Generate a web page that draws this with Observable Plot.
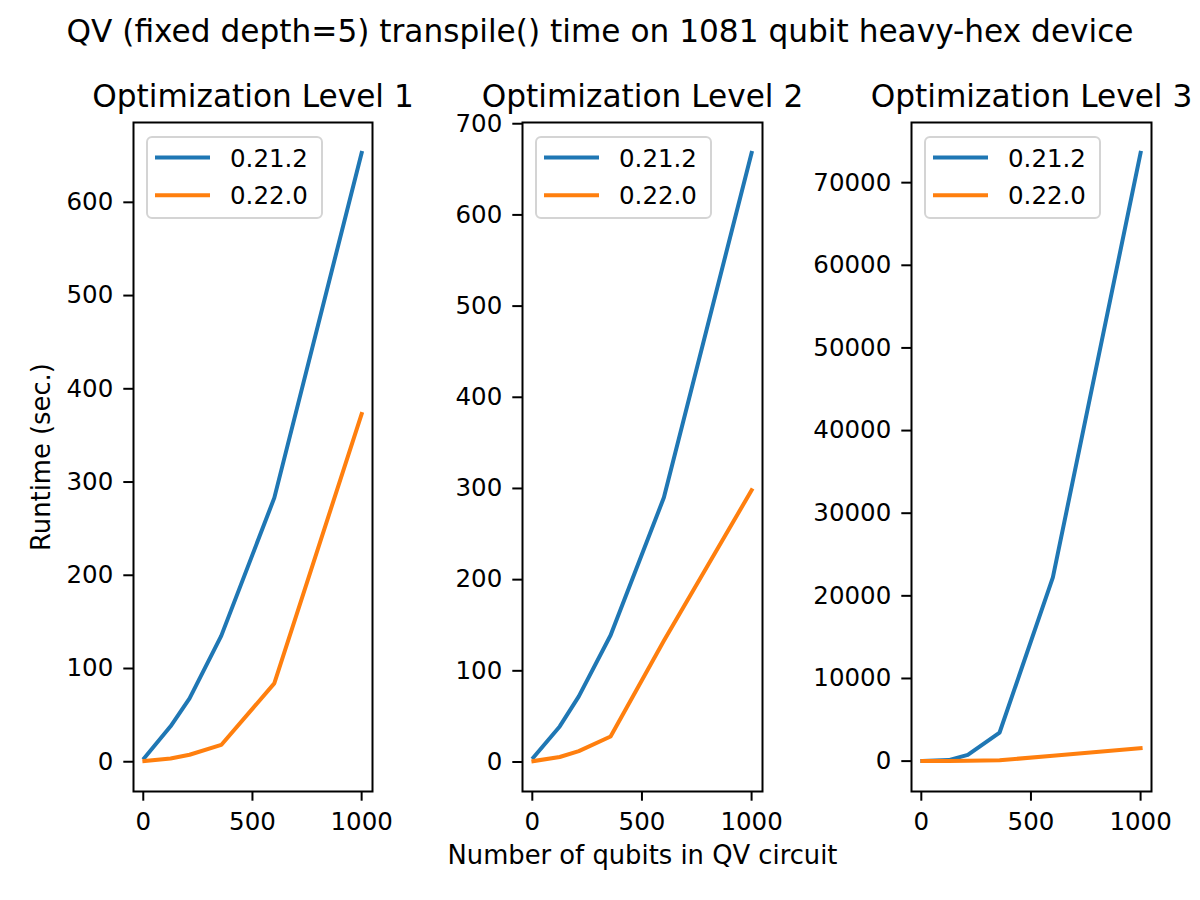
<!DOCTYPE html>
<html>
<head>
<meta charset="utf-8">
<script src="https://cdn.jsdelivr.net/npm/d3@7"></script>
<script src="https://cdn.jsdelivr.net/npm/@observablehq/plot@0.6"></script>
<style>
  body { margin: 0; background: #fff; font-family: "DejaVu Sans", sans-serif; }
  #root { position: relative; width: 1200px; height: 900px; overflow: hidden; background: #fff; }
  .suptitle { position: absolute; left: 0; top: 16px; width: 1200px; text-align: center;
    font-size: 31.2px; line-height: 31.2px; color: #000; white-space: nowrap; }
  .legend { position: absolute; top: 136px; }
</style>
</head>
<body>
<div id="root"></div>
<script>
// ---- data ----
const suptitle = "QV (fixed depth=5) transpile() time on 1081 qubit heavy-hex device";
const panelTitles = ["Optimization Level 1", "Optimization Level 2", "Optimization Level 3"];
const versions = ["0.21.2", "0.22.0"];
const seriesColors = ["#1f77b4", "#ff7f0e"];
const qubits = [5, 125, 212, 357, 600, 1000];

const level1_v0212 = [4, 38, 68, 135, 283, 653];
const level1_v0220 = [0.7, 3.5, 7.5, 18, 84, 373];
const level2_v0212 = [5, 39, 72, 139, 290, 668];
const level2_v0220 = [1, 5.5, 12, 28, 133, 298];
const level3_v0212 = [10, 120, 760, 3460, 22230, 73600];
const level3_v0220 = [2, 10, 30, 100, 650, 1570];

const xTicks = [0, 500, 1000];
const level1_yTicks = [0, 100, 200, 300, 400, 500, 600];
const level2_yTicks = [0, 100, 200, 300, 400, 500, 600, 700];
const level3_yTicks = [0, 10000, 20000, 30000, 40000, 50000, 60000, 70000];

const xLabel = "Number of qubits in QV circuit";
const yLabel = "Runtime (sec.)";

// ---- layout ----
const W = 1200, H = 900;
const frameLeft = [133, 522, 911];
const frameRight = [372, 762, 1151];
const frameTop = 122, frameBottom = 791;
const tickFont = 24.5, titleFont = 31.2, labelFont = 25.8;

const root = document.getElementById("root");

const st = document.createElement("div");
st.className = "suptitle";
st.textContent = suptitle;
root.appendChild(st);

function padded(vals) {
  const lo = d3.min(vals), hi = d3.max(vals), s = hi - lo;
  return [lo - 0.05 * s, hi + 0.05 * s];
}

function panel(i, blue, orange, yTicks) {
  const rows = [];
  qubits.forEach((q, k) => rows.push({q, t: blue[k], ver: versions[0]}));
  qubits.forEach((q, k) => rows.push({q, t: orange[k], ver: versions[1]}));
  const marks = [
    Plot.line(rows, {x: "q", y: "t", stroke: "ver", z: "ver", strokeWidth: 4,
      strokeLinejoin: "round", strokeLinecap: "square"}),
    Plot.frame({stroke: "black", strokeWidth: 2}),
    Plot.axisX({ticks: xTicks, tickSize: 9.7, tickPadding: 11, strokeWidth: 2,
      fontSize: tickFont, label: null, tickFormat: d => String(d)}),
    Plot.axisY({ticks: yTicks, tickSize: 9.7, tickPadding: 10.5, strokeWidth: 2,
      fontSize: tickFont, label: null, tickFormat: d => String(d)}),
    Plot.text([panelTitles[i]], {frameAnchor: "top", dy: -16, lineAnchor: "bottom",
      fontSize: titleFont, fill: "black"})
  ];
  if (i === 0) {
    marks.push(Plot.text([yLabel], {frameAnchor: "left", dx: -92, rotate: -90,
      fontSize: labelFont, fill: "black", textAnchor: "middle"}));
  }
  if (i === 1) {
    marks.push(Plot.text([xLabel], {frameAnchor: "bottom", dy: 72, lineAnchor: "bottom",
      fontSize: labelFont, fill: "black"}));
  }
  const chart = Plot.plot({
    width: W, height: H,
    marginLeft: frameLeft[i], marginRight: W - frameRight[i],
    marginTop: frameTop, marginBottom: H - frameBottom,
    style: {fontFamily: "DejaVu Sans", fontSize: tickFont + "px", color: "black",
      background: "transparent", overflow: "visible"},
    x: {domain: padded(qubits)},
    y: {domain: padded(blue.concat(orange))},
    color: {domain: versions, range: seriesColors},
    marks
  });
  chart.style.position = "absolute";
  chart.style.left = "0px";
  chart.style.top = "0px";
  chart.style.maxWidth = "none";
  root.appendChild(chart);

  // legend (upper left, matplotlib style)
  const ns = "http://www.w3.org/2000/svg";
  const lg = document.createElementNS(ns, "svg");
  lg.setAttribute("class", "legend");
  lg.setAttribute("width", 178);
  lg.setAttribute("height", 85);
  lg.style.left = (frameLeft[i] + 13) + "px";
  const box = document.createElementNS(ns, "rect");
  Object.entries({x: 1, y: 1, width: 175, height: 81, rx: 5, fill: "rgba(255,255,255,0.8)",
    stroke: "#d4d4d4", "stroke-width": 2}).forEach(([k, v]) => box.setAttribute(k, v));
  lg.appendChild(box);
  versions.forEach((v, k) => {
    const y = 21.5 + k * 37.7;
    const ln = document.createElementNS(ns, "line");
    Object.entries({x1: 9, x2: 64, y1: y, y2: y, stroke: seriesColors[k], "stroke-width": 4})
      .forEach(([a, b]) => ln.setAttribute(a, b));
    lg.appendChild(ln);
    const tx = document.createElementNS(ns, "text");
    Object.entries({x: 84, y: y + 9.1, "font-size": tickFont, "font-family": "DejaVu Sans", fill: "black"})
      .forEach(([a, b]) => tx.setAttribute(a, b));
    tx.textContent = v;
    lg.appendChild(tx);
  });
  root.appendChild(lg);
}

panel(0, level1_v0212, level1_v0220, level1_yTicks);
panel(1, level2_v0212, level2_v0220, level2_yTicks);
panel(2, level3_v0212, level3_v0220, level3_yTicks);
</script>
</body>
</html>
